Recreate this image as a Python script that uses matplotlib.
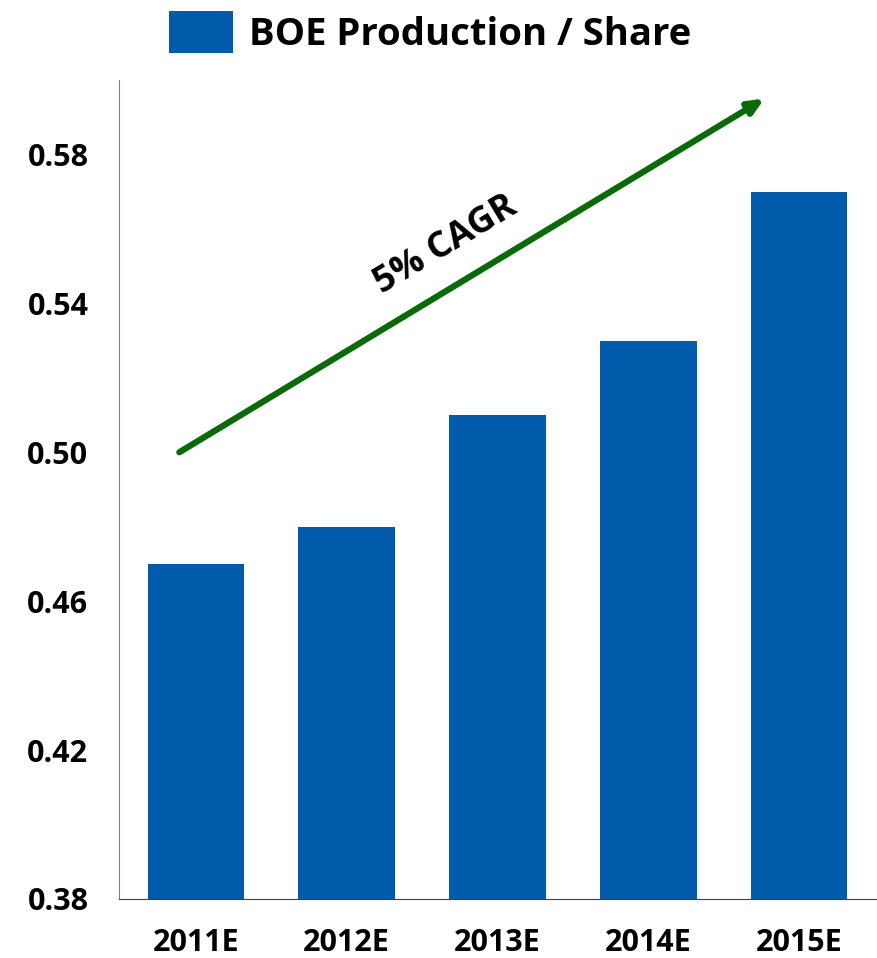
import matplotlib.pyplot as plt
from matplotlib.patches import Patch

# ---------------------------------------------------------------------------
# Data
# ---------------------------------------------------------------------------

years = ['2011E', '2012E', '2013E', '2014E', '2015E']
boe_per_share = [0.47, 0.48, 0.51, 0.53, 0.57]
y_ticks = [0.38, 0.42, 0.46, 0.50, 0.54, 0.58]

bar_color = '#005BAA'
arrow_color = '#0A6A0A'

plt.rcParams['font.family'] = ['Open Sans', 'DejaVu Sans']
plt.rcParams['font.weight'] = 'bold'

fig = plt.figure(figsize=(8.77, 9.58), dpi=100)
ax = fig.add_axes([119 / 877, 1 - 899 / 958, (876 - 119) / 877, (899 - 80) / 958])

x = list(range(len(years)))
ax.bar(x, boe_per_share, width=0.64, color=bar_color, zorder=2)

ax.set_xlim(-0.51, 4.51)
ax.set_ylim(0.38, 0.60)
ax.set_yticks(y_ticks)
ax.set_yticklabels([f'{v:.2f}' for v in y_ticks], fontweight='bold', fontsize=22)
ax.set_xticks(x)
ax.set_xticklabels(years, fontweight='bold', fontsize=22)
ax.tick_params(axis='both', length=0)
ax.tick_params(axis='x', pad=21)
ax.tick_params(axis='y', pad=22)

for side in ['top', 'right']:
    ax.spines[side].set_visible(False)
ax.spines['left'].set_color('#808080')
ax.spines['bottom'].set_color('#404040')

# CAGR arrow
ax.annotate('', xy=(3.77, 0.595), xytext=(-0.11, 0.50),
            arrowprops=dict(arrowstyle='-|>,head_length=0.9,head_width=0.4',
                            color=arrow_color, lw=4.5, shrinkA=0, shrinkB=0))
ax.text(1.66, 0.5556, '5% CAGR', rotation=31, ha='center', va='center',
        fontsize=26, fontweight='bold')

# Legend
handles = [Patch(facecolor=bar_color, label='BOE Production / Share')]
fig.legend(handles=handles, loc='upper center', bbox_to_anchor=(0.49, 1.024),
           frameon=False, prop={'size': 27.5, 'weight': 'bold'},
           handlelength=1.7, handleheight=1.3, handletextpad=0.4)

fig.savefig('out.png', dpi=100)
